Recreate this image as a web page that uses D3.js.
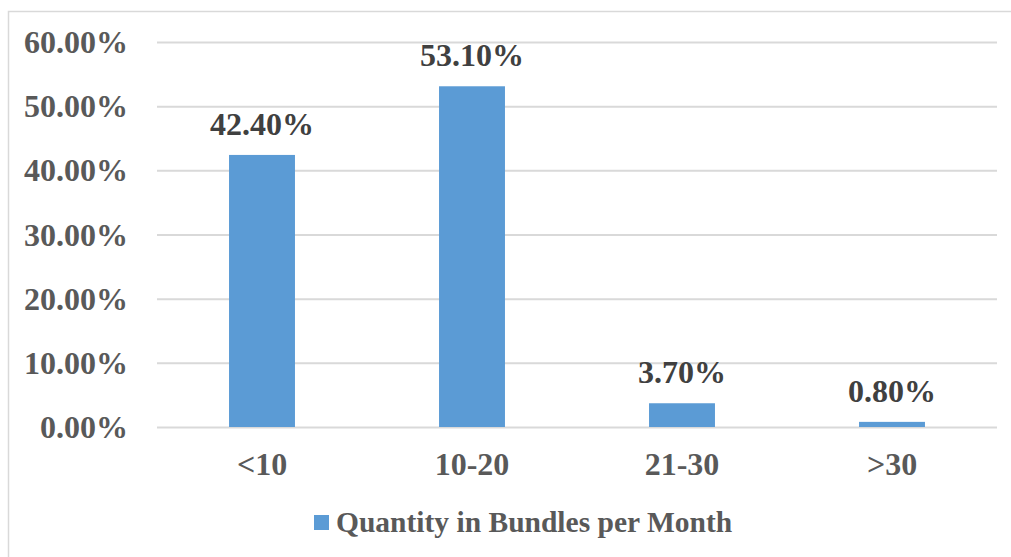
<!DOCTYPE html>
<html>
<head>
<meta charset="utf-8">
<script src="https://cdn.jsdelivr.net/npm/d3@7"></script>
<style>
  html, body { margin: 0; padding: 0; background: #fff; }
  svg { display: block; }
</style>
</head>
<body>
<svg id="chart" width="1011" height="557"></svg>
<script>
// Bundle quantity distribution
const categories = ["<10", "10-20", "21-30", ">30"];
const shares = [42.4, 53.1, 3.7, 0.8];
const yTicks = [0, 10, 20, 30, 40, 50, 60];
const seriesName = "Quantity in Bundles per Month";

const W = 1011, H = 557;
const plot = { left: 157, right: 997, top: 42, bottom: 427 };
const FONT = "'Liberation Serif', 'Times New Roman', serif";

const svg = d3.select("#chart");

// outer chart frame
svg.append("rect")
  .attr("x", 8.5).attr("y", 11.5)
  .attr("width", W).attr("height", H)
  .attr("fill", "#fff")
  .attr("stroke", "#d9d9d9").attr("stroke-width", 1.5);

const x = d3.scaleBand().domain(categories).range([plot.left, plot.right]).padding(0);
const y = d3.scaleLinear().domain([0, 60]).range([plot.bottom, plot.top]);
const barW = x.bandwidth() * 0.314;

// horizontal gridlines
const yAxis = d3.axisLeft(y).tickValues(yTicks).tickSize(-(plot.right - plot.left))
  .tickFormat(d => d.toFixed(2) + "%").tickPadding(29);
const gy = svg.append("g").attr("transform", `translate(${plot.left},0)`).call(yAxis);
gy.select(".domain").remove();
gy.selectAll(".tick line").attr("stroke", "#d9d9d9").attr("stroke-width", 2);
gy.selectAll(".tick text")
  .attr("fill", "#595959")
  .attr("font-family", FONT).attr("font-weight", "bold").attr("font-size", 32)
  .attr("dy", "0.33em");

// category labels
const xAxis = d3.axisBottom(x).tickSize(0).tickPadding(25);
const gx = svg.append("g").attr("transform", `translate(0,${plot.bottom})`).call(xAxis);
gx.select(".domain").remove();
gx.selectAll(".tick text")
  .attr("fill", "#595959")
  .attr("font-family", FONT).attr("font-weight", "bold").attr("font-size", 32);

// bars
const data = categories.map((c, i) => ({ c, v: shares[i] }));
svg.append("g").selectAll("rect").data(data).join("rect")
  .attr("x", d => x(d.c) + (x.bandwidth() - barW) / 2)
  .attr("width", barW)
  .attr("y", d => y(d.v))
  .attr("height", d => y(0) - y(d.v))
  .attr("fill", "#5b9bd5");

// value labels
svg.append("g").selectAll("text").data(data).join("text")
  .attr("x", d => x(d.c) + x.bandwidth() / 2)
  .attr("y", d => y(d.v) - 20)
  .attr("text-anchor", "middle")
  .attr("fill", "#404040")
  .attr("font-family", FONT).attr("font-weight", "bold").attr("font-size", 32)
  .text(d => d.v.toFixed(2) + "%");

// legend
const lg = svg.append("g");
lg.append("rect").attr("x", 314).attr("y", 515).attr("width", 15).attr("height", 15).attr("fill", "#5b9bd5");
lg.append("text").attr("x", 336).attr("y", 532)
  .attr("fill", "#595959")
  .attr("font-family", FONT).attr("font-weight", "bold").attr("font-size", 29.5)
  .text(seriesName);
</script>
</body>
</html>
